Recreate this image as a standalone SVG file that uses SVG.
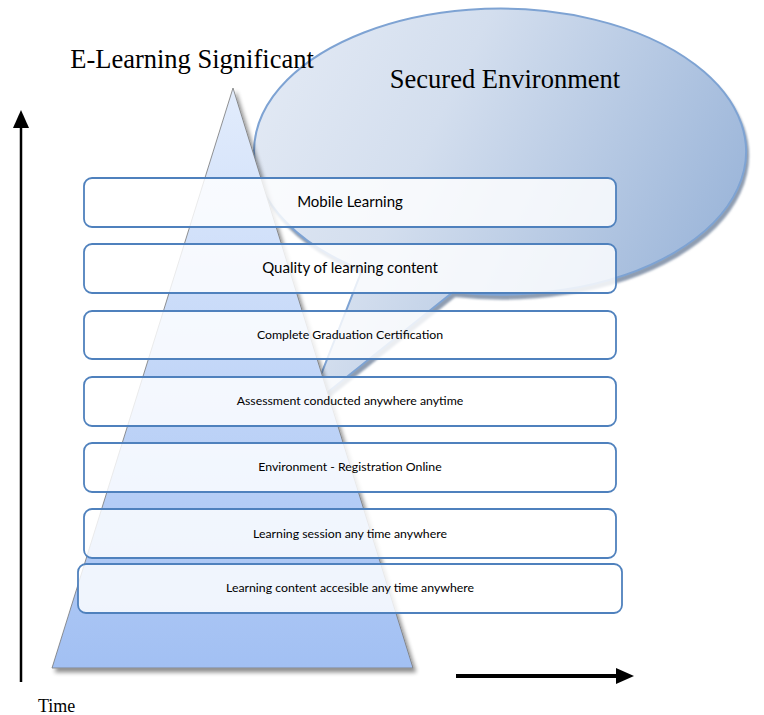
<svg xmlns="http://www.w3.org/2000/svg" width="764" height="715" viewBox="0 0 764 715">
<defs>
<linearGradient id="tri" x1="0" y1="0" x2="0" y2="1"><stop offset="0" stop-color="#e2ecfc"/><stop offset="1" stop-color="#a2c0f3"/></linearGradient>
<linearGradient id="bub" x1="0" y1="0.2" x2="1" y2="0.6"><stop offset="0" stop-color="#e2e9f4"/><stop offset="0.35" stop-color="#d3deee"/><stop offset="1" stop-color="#98b3d8"/></linearGradient>
<filter id="sh" x="-10%" y="-10%" width="130%" height="130%"><feGaussianBlur in="SourceAlpha" stdDeviation="1.3" result="b"/><feOffset in="b" dx="2" dy="4" result="o"/><feFlood flood-color="#5f7390" flood-opacity="0.7"/><feComposite in2="o" operator="in"/><feMerge><feMergeNode/><feMergeNode in="SourceGraphic"/></feMerge></filter>
<filter id="sh2" x="-10%" y="-10%" width="130%" height="130%"><feGaussianBlur in="SourceAlpha" stdDeviation="2"/><feOffset dx="3" dy="4"/><feComponentTransfer><feFuncA type="linear" slope="0.45"/></feComponentTransfer><feMerge><feMergeNode/><feMergeNode in="SourceGraphic"/></feMerge></filter>
</defs>
<style>
.box{fill:#ffffff;fill-opacity:0.82;stroke:#4f81bd;stroke-width:1.8}
.lbl{font-family:Lato,"Open Sans","Liberation Sans",sans-serif;fill:#000;text-anchor:middle}
.ttl{font-family:"Liberation Serif",serif;fill:#000}
</style>
<g id="callout" filter="url(#sh)">
<path d="M362,270 A246,143 0 1 1 453,292 L308,408 Z" fill="url(#bub)" stroke="#7ea3d3" stroke-width="2"/>
</g>
<text class="ttl" x="505" y="88" font-size="26.5" text-anchor="middle">Secured Environment</text>
<g id="pyramid" filter="url(#sh2)">
<polygon points="233,88 413,668 52,668" fill="url(#tri)" stroke="#777" stroke-width="0.8"/>
</g>
<text class="ttl" x="192" y="68" font-size="26.5" text-anchor="middle">E-Learning Significant</text>
<g id="connectors">
<line x1="21" y1="682" x2="21" y2="126" stroke="#000" stroke-width="2.5"/>
<polygon points="21,110 29,128 13,128" fill="#000"/>
<line x1="456" y1="676" x2="618" y2="676" stroke="#000" stroke-width="4"/>
<polygon points="634,676 616,668 616,684" fill="#000"/>
</g>
<g id="n1"><rect class="box" x="84" y="178" width="532" height="49" rx="8"/><text class="lbl" x="350" y="207" font-size="15">Mobile Learning</text></g>
<g id="n2"><rect class="box" x="84" y="244" width="532" height="49" rx="8"/><text class="lbl" x="350" y="273" font-size="15">Quality of learning content</text></g>
<g id="n3"><rect class="box" x="84" y="311" width="532" height="48" rx="8"/><text class="lbl" x="350" y="339" font-size="12.3">Complete Graduation Certification</text></g>
<g id="n4"><rect class="box" x="84" y="377" width="532" height="49" rx="8"/><text class="lbl" x="350" y="405" font-size="12.3">Assessment conducted anywhere anytime</text></g>
<g id="n5"><rect class="box" x="84" y="443" width="532" height="49" rx="8"/><text class="lbl" x="350" y="471" font-size="12.3">Environment - Registration Online</text></g>
<g id="n6"><rect class="box" x="84" y="509" width="532" height="49" rx="8"/><text class="lbl" x="350" y="538" font-size="12.3">Learning session any time anywhere</text></g>
<g id="n7"><rect class="box" x="78" y="564" width="544" height="49" rx="8"/><text class="lbl" x="350" y="592" font-size="12.3">Learning content accesible any time anywhere</text></g>
<text class="ttl" x="38" y="712" font-size="18">Time</text>
</svg>
